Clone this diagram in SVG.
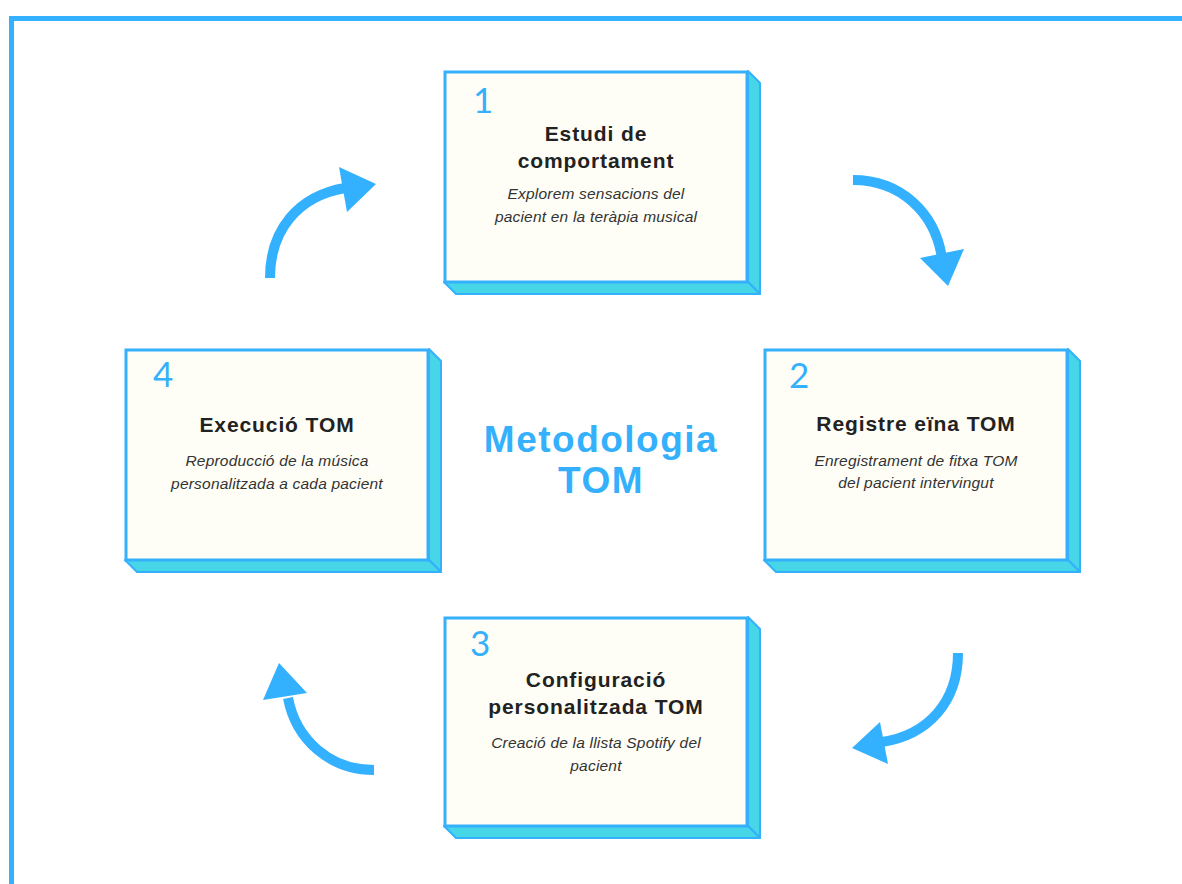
<svg xmlns="http://www.w3.org/2000/svg" width="1182" height="884" viewBox="0 0 1182 884">
<defs>
<style>
.front{fill:#fefef6;stroke:#35b0fc;stroke-width:3}
.side{fill:#46d6e8;stroke:#35b0fc;stroke-width:2;stroke-linejoin:round}
.num{font-family:Lato,"Open Sans",sans-serif;font-weight:400;font-size:35px;fill:#35b0fc}
.title{font-family:"Liberation Sans",Arial,sans-serif;font-weight:bold;font-size:21px;fill:#222;text-anchor:middle;letter-spacing:0.9px}
.sub{font-family:"Liberation Sans",Arial,sans-serif;font-style:italic;font-size:15.5px;fill:#333;text-anchor:middle;letter-spacing:0.2px}
.center{font-family:"Liberation Sans",Arial,sans-serif;font-weight:bold;font-size:37px;fill:#35b0fc;text-anchor:middle;letter-spacing:1.5px}
.arc{fill:none;stroke:#33b1ff;stroke-width:10}
.head{fill:#33b1ff}
</style>
</defs>
<rect width="1182" height="884" fill="#ffffff"/>
<g id="frame">
<rect x="10" y="16" width="1172" height="5" fill="#33b1ff"/>
<rect x="9" y="16" width="5" height="868" fill="#33b1ff"/>
</g>
<g id="step1">
<polygon class="side" points="748,71 760,83 760,294 748,282"/>
<polygon class="side" points="444,282 748,282 760,294 456,294"/>
<rect class="front" x="445" y="72" width="302" height="210"/>
<text class="num" x="473" y="113">1</text>
<text class="title" x="596" y="141">Estudi de</text>
<text class="title" x="596" y="168">comportament</text>
<text class="sub" x="596" y="199">Explorem sensacions del</text>
<text class="sub" x="596" y="222">pacient en la teràpia musical</text>
</g>
<g id="step2">
<polygon class="side" points="1068,349 1080,361 1080,572 1068,560"/>
<polygon class="side" points="764,560 1068,560 1080,572 776,572"/>
<rect class="front" x="765" y="350" width="302" height="210"/>
<text class="num" x="789" y="388">2</text>
<text class="title" x="916" y="431">Registre eïna TOM</text>
<text class="sub" x="916" y="466">Enregistrament de fitxa TOM</text>
<text class="sub" x="916" y="488">del pacient intervingut</text>
</g>
<g id="step3">
<polygon class="side" points="748,617 760,629 760,838 748,826"/>
<polygon class="side" points="444,826 748,826 760,838 456,838"/>
<rect class="front" x="445" y="618" width="302" height="208"/>
<text class="num" x="470" y="656">3</text>
<text class="title" x="596" y="687">Configuració</text>
<text class="title" x="596" y="714">personalitzada TOM</text>
<text class="sub" x="596" y="748">Creació de la llista Spotify del</text>
<text class="sub" x="596" y="771">pacient</text>
</g>
<g id="step4">
<polygon class="side" points="429,349 441,361 441,572 429,560"/>
<polygon class="side" points="125,560 429,560 441,572 137,572"/>
<rect class="front" x="126" y="350" width="302" height="210"/>
<text class="num" x="153" y="387">4</text>
<text class="title" x="277" y="432">Execució TOM</text>
<text class="sub" x="277" y="466">Reproducció de la música</text>
<text class="sub" x="277" y="489">personalitzada a cada pacient</text>
</g>
<g id="center-label">
<text class="center" x="601" y="452">Metodologia</text>
<text class="center" x="601" y="493">TOM</text>
</g>
<g id="connectors">
<path class="arc" d="M270,278 C270,230 298,196 345,188"/>
<polygon class="head" points="339,167 376,184 347,212"/>
<path class="arc" d="M853,180 C900,180 935,212 942,258"/>
<polygon class="head" points="920,258 964,249 948,286"/>
<path class="arc" d="M958,653 C958,702 928,735 882,742"/>
<polygon class="head" points="852,748 880,722 888,764"/>
<path class="arc" d="M374,770 C330,770 296,740 288,698"/>
<polygon class="head" points="263,700 279,663 307,693"/>
</g>
</svg>
